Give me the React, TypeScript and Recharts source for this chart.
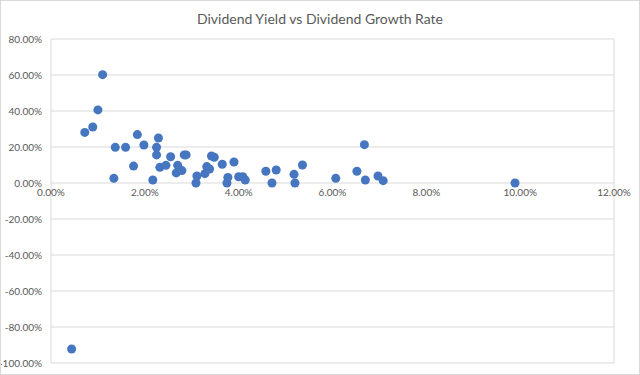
import {
  ScatterChart, Scatter, XAxis, YAxis, ZAxis, CartesianGrid, ReferenceDot,
} from 'recharts';

// Dividend yield (%) and 5y dividend growth rate (%) per holding
const YIELDS = [
  0.44, 0.72, 0.89, 1.00, 1.10, 1.34, 1.37, 1.59, 1.76, 1.84,
  1.98, 2.17, 2.25, 2.25, 2.29, 2.32, 2.45, 2.55, 2.67, 2.70,
  2.79, 2.84, 2.88, 3.09, 3.11, 3.28, 3.32, 3.38, 3.42, 3.48,
  3.65, 3.75, 3.77, 3.90, 4.00, 4.09, 4.14, 4.58, 4.71, 4.80,
  5.18, 5.20, 5.36, 6.07, 6.52, 6.68, 6.70, 6.97, 7.08, 9.89,
];
const GROWTH = [
  -92.2, 28.1, 31.1, 40.6, 60.2, 2.6, 19.8, 19.8, 9.4, 26.9,
  21.1, 1.7, 19.8, 15.6, 25.0, 8.7, 9.8, 14.6, 5.6, 9.8,
  6.9, 15.6, 15.6, 0.0, 3.9, 5.2, 9.1, 7.8, 15.0, 14.3,
  10.4, 0.0, 3.1, 11.7, 3.5, 3.5, 1.7, 6.5, 0.0, 7.2,
  4.8, 0.0, 10.0, 2.6, 6.5, 21.3, 1.7, 3.9, 1.3, 0.0,
];

const X_TICKS = [0, 2, 4, 6, 8, 10, 12];
const Y_TICKS = [-100, -80, -60, -40, -20, 0, 20, 40, 60, 80];

const TEXT = '#595959';
const GRID = '#d9d9d9';
const DOT = '#4676c0';
const FONT = 'Lato, "Open Sans", sans-serif';

const pct = (v: number) => `${v.toFixed(2)}%`;

export default function App() {
  const data = YIELDS.map((x, i) => ({ x, y: GROWTH[i] }));

  return (
    <div style={{ position: 'absolute', left: 0, top: 0, width: 640, height: 375, background: '#fff', fontFamily: FONT }}>
      <div
        style={{
          position: 'absolute', left: 0, top: 10, width: 640, textAlign: 'center',
          fontSize: 14, color: TEXT, lineHeight: '18px',
        }}
      >
        Dividend Yield vs Dividend Growth Rate
      </div>
      <ScatterChart
        width={640}
        height={375}
        margin={{ top: 39, right: 26, bottom: 12, left: 0 }}
      >
        <CartesianGrid stroke={GRID} strokeWidth={1} />
        <XAxis
          type="number"
          dataKey="x"
          domain={[0, 12]}
          ticks={X_TICKS}
          height={0}
          tick={false}
          axisLine={false}
          tickLine={false}
        />
        <YAxis
          type="number"
          dataKey="y"
          domain={[-100, 80]}
          ticks={Y_TICKS}
          width={51}
          tickSize={0}
          tickMargin={9}
          axisLine={false}
          tickLine={false}
          tickFormatter={pct}
          tick={{ fill: TEXT, fontSize: 10, fontFamily: FONT }}
        />
        <ZAxis range={[28, 28]} />
        {/* x tick labels sit under the 0% line, like Excel's crossing axis */}
        {X_TICKS.map((t) => (
          <ReferenceDot
            key={t}
            x={t}
            y={0}
            r={0}
            fill="none"
            stroke="none"
            label={{ value: pct(t), position: 'bottom', offset: 6, fill: TEXT, fontSize: 10, fontFamily: FONT }}
          />
        ))}
        <Scatter data={data} fill={DOT} isAnimationActive={false} />
      </ScatterChart>
      <div
        style={{
          position: 'absolute', left: 0, top: 0, width: 640, height: 375,
          boxSizing: 'border-box', border: `1px solid ${GRID}`, pointerEvents: 'none',
        }}
      />
    </div>
  );
}
